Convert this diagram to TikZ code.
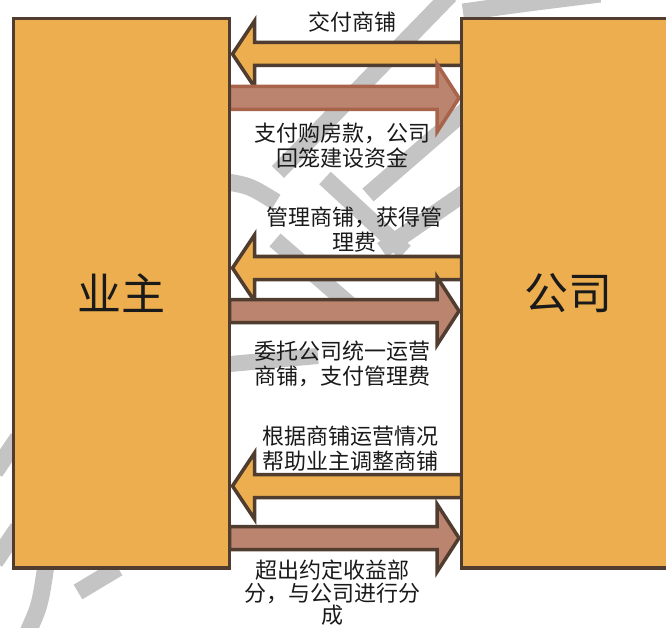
\documentclass[tikz,border=0pt]{standalone}
\usepackage{fontspec}
\newfontfamily\cjk{Noto Sans CJK SC}
\usetikzlibrary{calc}
\definecolor{boxfill}{HTML}{ECAE4F}
\definecolor{edge}{HTML}{503D30}
\definecolor{rfill}{HTML}{BA846F}
\definecolor{redge}{HTML}{A8634B}
\definecolor{wmgray}{HTML}{C4C4C4}
\definecolor{txt}{HTML}{1A1A1A}
\tikzset{
  party/.style={draw=edge, line width=3.5pt, fill=boxfill, inner sep=0pt,
    font=\cjk\fontsize{44}{50}\selectfont, text=txt},
  larrow/.style={draw=edge, line width=3.5pt, fill=boxfill, line join=miter},
  rarrow/.style={draw=edge, line width=3.5pt, fill=rfill, line join=miter},
  lbl/.style={font=\cjk\fontsize{22}{25}\selectfont, text=txt, align=center, inner sep=0pt},
  wm/.style={draw=wmgray, line width=17pt}
}
\newcommand\leftblock[3][]{%
  \path[larrow,#1] (#2) -- ++(22,-33) -- ++(0,21.5) -- ($(#3)+(0,-11.5)$)
    -- ($(#3)+(0,11.5)$) -- ($(#2)+(22,11.5)$) -- ++(0,21.5) -- cycle;}
\newcommand\rightblock[3][]{%
  \path[rarrow,#1] (#2) -- ++(-22,-34) -- ++(0,22.5) -- ($(#3)+(0,-11.5)$)
    -- ($(#3)+(0,11.5)$) -- ($(#2)+(-22,11.5)$) -- ++(0,22.5) -- cycle;}
\begin{document}
\begin{tikzpicture}[x=1pt,y=-1pt]
\useasboundingbox (0,0) rectangle (666,628);
\clip (0,0) rectangle (666,628);
% watermark strokes
\draw[wm] (450,-5) -- (278,172);
\draw[wm] (325,178) -- (405,252);
\draw[wm] (466,110) -- (368,195);
\draw[wm] (466,192) -- (382,250);
\draw[wm] (275,240) -- (350,305);
\draw[wm] (228,182) .. controls (250,186) .. (276,202);
\draw[wm, line width=16pt] (230,364) -- (318,356);
\draw[wm] (463,12) .. controls (520,4) .. (600,-6);
\draw[wm] (-5,472) -- (18,438);
\draw[wm] (-5,562) -- (18,528);
\draw[wm] (28,632) .. controls (40,605) .. (46,565);
\draw[wm] (78,592) -- (118,568);
% arrow end points
\coordinate (l1a) at (232.5,54);  \coordinate (r1a) at (461.5,54);
\coordinate (l1b) at (229.5,98);  \coordinate (r1b) at (459,98);
\coordinate (l2a) at (232.5,268); \coordinate (r2a) at (461.5,268);
\coordinate (l2b) at (229.5,311); \coordinate (r2b) at (459,311);
\coordinate (l3a) at (232.5,486); \coordinate (r3a) at (461.5,486);
\coordinate (l3b) at (229.5,538); \coordinate (r3b) at (459,538);
% arrows
\leftblock{l1a}{r1a}
\rightblock[draw=redge]{r1b}{l1b}
\leftblock{l2a}{r2a}
\rightblock{r2b}{l2b}
\leftblock{l3a}{r3a}
\rightblock{r3b}{l3b}
% boxes
\node[party, minimum width=216pt, minimum height=549.5pt] (owner) at (121.5,293.25) {业主};
\node[party, minimum width=213.5pt, minimum height=549.5pt] (company) at (568.25,293.25) {公司};
% labels
\node[lbl] (t1) at (352,22) {交付商铺};
\node[lbl] (t2) at (342,145.5) {支付购房款，公司\\回笼建设资金};
\node[lbl] (t3) at (354,230) {管理商铺，获得管\\理费};
\node[lbl] (t4) at (342,363.5) {委托公司统一运营\\商铺，支付管理费};
\node[lbl] (t5) at (350,448.5) {根据商铺运营情况\\帮助业主调整商铺};
\node[lbl, font=\cjk\fontsize{22}{22.5}\selectfont] (t6) at (332,593) {超出约定收益部\\分，与公司进行分\\成};
\end{tikzpicture}
\end{document}
